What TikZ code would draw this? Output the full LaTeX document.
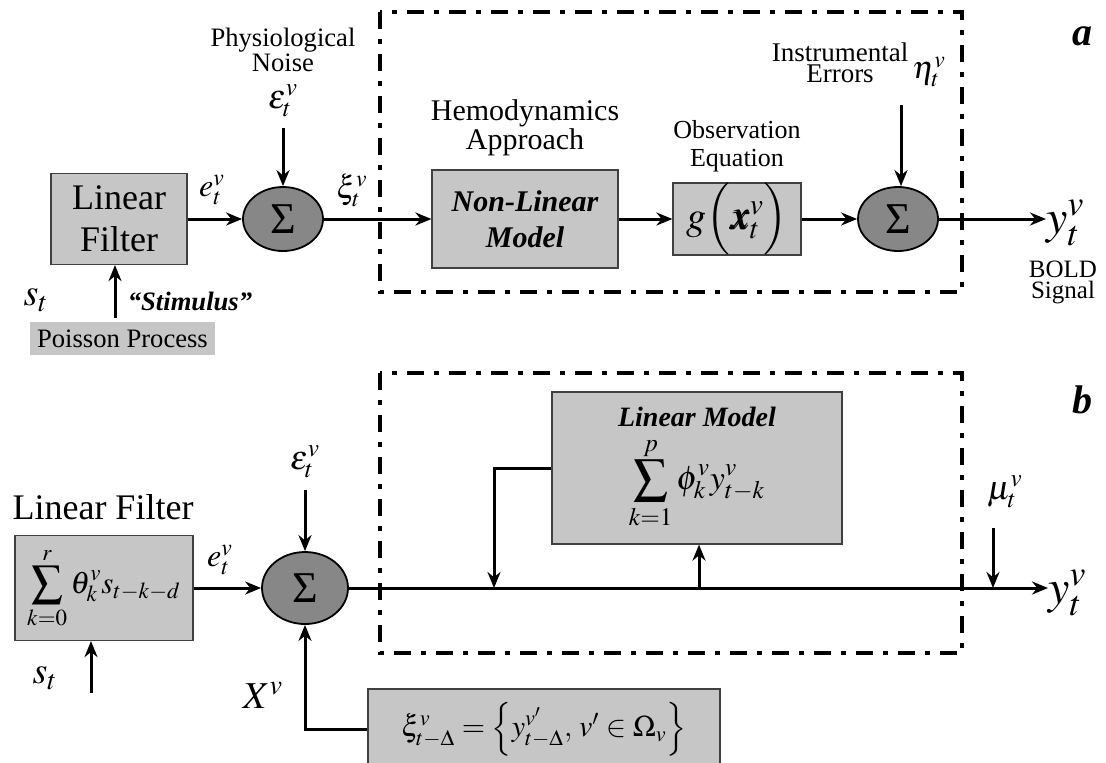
\documentclass[tikz,border=0pt]{standalone}
\usepackage{mathptmx}
\usepackage{bm}
\usepackage[no-math]{fontspec}
\setmainfont{Liberation Serif}
\usepackage{tikz}
\usetikzlibrary{positioning,arrows.meta,shapes.geometric}
\definecolor{boxgray}{HTML}{C6C6C6}
\definecolor{sumgray}{HTML}{878787}
\newcommand{\fsz}[2]{\fontsize{#1}{#2}\selectfont}
\tikzset{
  blk/.style={draw=black!75,fill=boxgray,line width=0.6pt,align=center,inner sep=2pt},
  sumnd/.style={draw=black,fill=sumgray,ellipse,line width=0.9pt,inner sep=0pt,
                minimum width=40pt,minimum height=32pt,font=\fsz{22}{22}},
  lbl/.style={align=center,inner sep=0pt},
  arr/.style={-{Stealth[length=8pt,width=6.5pt]},line width=1.5pt},
  wire/.style={line width=1.5pt},
  frame/.style={line width=2pt,dash pattern=on 8.5pt off 5pt on 2.5pt off 5pt}
}
\begin{document}
\begin{tikzpicture}[x=0.5pt,y=-0.5pt]
  \useasboundingbox (0,0) rectangle (1106,762);
  % panel a
  \draw[frame] (380,12) rectangle (962,292);
  \node[blk,minimum width=68pt,minimum height=45.5pt,font=\fsz{18}{21}] (lfa) at (119,219) {Linear\\Filter};
  \node[sumnd] (suma) at (283,219) {Σ};
  \node[blk,minimum width=93pt,minimum height=49pt,font=\fsz{15}{18}\bfseries\itshape] (nla) at (525,219) {Non-Linear\\Model};
  \node[blk,inner sep=0pt,minimum width=64pt,minimum height=35.5pt,font=\fsz{20}{20}] (ga) at (737,219) {$g\Bigl(\bm{x}_t^{v}\Bigr)$};
  \node[sumnd] (sumo) at (898,219) {Σ};
  \node[blk,draw=none,minimum width=92.5pt,minimum height=16.5pt,font=\fsz{13.3}{14}] (poi) at (122.5,338.5) {Poisson Process};
  \node[lbl,font=\fsz{13.3}{12.5}] (phys) at (283,50) {Physiological\\Noise};
  \node[lbl,font=\fsz{17}{17}] (epsa) at (283,101) {$\varepsilon_t^{v}$};
  \node[lbl,font=\fsz{16}{16}] (ea) at (212,190) {$e_t^{v}$};
  \node[lbl,font=\fsz{16}{16}] (xia) at (352,190) {$\xi_t^{v}$};
  \node[lbl,font=\fsz{15}{14.5}] (hemo) at (525,128) {Hemodynamics\\Approach};
  \node[lbl,font=\fsz{13}{14}] (obs) at (737,146) {Observation\\Equation};
  \node[lbl,font=\fsz{13.5}{10.5}] (inst) at (840,63) {Instrumental\\Errors};
  \node[lbl,font=\fsz{16}{16}] (eta) at (929,72) {$\eta_t^{v}$};
  \node[lbl,anchor=west,font=\fsz{24}{24}] (ya) at (1046,223) {$y_t^{v}$};
  \node[lbl,font=\fsz{12.5}{10.5}] (bold) at (1063,282) {BOLD\\Signal};
  \node[lbl,font=\fsz{20}{20}\bfseries\itshape] (la) at (1082,36) {a};
  \node[lbl,font=\fsz{19}{19}] (sa) at (36,300) {$s_t$};
  \node[lbl,font=\fsz{13.3}{13.3}\bfseries\itshape] (stim) at (190,301) {“Stimulus”};
  \coordinate (epsatop) at (283,128);
  \coordinate (etatop) at (901,105);
  \coordinate (stima) at (115,318);
  \draw[arr] (lfa.east) -- (suma.west);
  \draw[arr] (epsatop) -- (suma.north);
  \draw[arr] (suma.east) -- (nla.west);
  \draw[arr] (nla.east) -- (ga.west);
  \draw[arr] (ga.east) -- (sumo.west);
  \draw[arr] (etatop) -- (etatop |- sumo.north);
  \draw[arr] (sumo.east) -- (sumo.east -| ya.west);
  \draw[arr] (stima) -- (stima |- lfa.south);
  % panel b
  \draw[frame] (380,373) rectangle (962,653);
  \node[blk,minimum width=89pt,minimum height=52.5pt,font=\fsz{15.5}{15.5}] (lfb) at (104,588) {$\displaystyle\sum_{k=0}^{r}\theta_k^{v}s_{t-k-d}$};
  \node[sumnd,minimum width=43pt,minimum height=36pt] (sumb) at (305,588) {Σ};
  \node[blk,minimum width=145pt,minimum height=76pt,font=\fsz{17}{20}] (lmb) at (697,468)
    {{\fsz{14}{14}\bfseries\itshape Linear Model}\\[4pt]$\displaystyle\sum_{k=1}^{p}\phi_k^{v}y_{t-k}^{v}$};
  \node[blk,minimum width=176pt,minimum height=40pt,font=\fsz{15}{15}] (xib) at (544,729)
    {$\xi_{t-\Delta}^{v}=\left\{y_{t-\Delta}^{v'},\,v'\in\Omega_{v}\right\}$};
  \node[lbl,font=\fsz{18}{18}] (lflab) at (103,507) {Linear Filter};
  \node[lbl,font=\fsz{16}{16}] (eb) at (220,560) {$e_t^{v}$};
  \node[lbl,font=\fsz{17}{17}] (epsb) at (305,462) {$\varepsilon_t^{v}$};
  \node[lbl,font=\fsz{19}{19}] (sb) at (45,678) {$s_t$};
  \node[lbl,font=\fsz{19}{19}] (xv) at (263,695) {$X^{v}$};
  \node[lbl,font=\fsz{17}{17}] (mub) at (1005,492) {$\mu_t^{v}$};
  \node[lbl,anchor=west,font=\fsz{24}{24}] (yb) at (1048,593) {$y_t^{v}$};
  \node[lbl,font=\fsz{20}{20}\bfseries\itshape] (lb) at (1082,400) {b};
  \coordinate (epsbtop) at (305,490);
  \coordinate (stimb) at (91,693);
  \coordinate (fbdn) at (494,588);
  \coordinate (tapb) at (699,588);
  \coordinate (mutop) at (993,528);
  \draw[arr] (lfb.east) -- (sumb.west);
  \draw[arr] (epsbtop) -- (sumb.north);
  \draw[arr] (stimb) -- (stimb |- lfb.south);
  \draw[arr] (xib.west) -| (sumb.south);
  \draw[arr] (sumb.east) -- (sumb.east -| yb.west);
  \draw[arr] (lmb.west) -| (fbdn);
  \draw[arr] (tapb) -- (tapb |- lmb.south);
  \draw[arr] (mutop) -- (mutop |- sumb.east);
\end{tikzpicture}
\end{document}
